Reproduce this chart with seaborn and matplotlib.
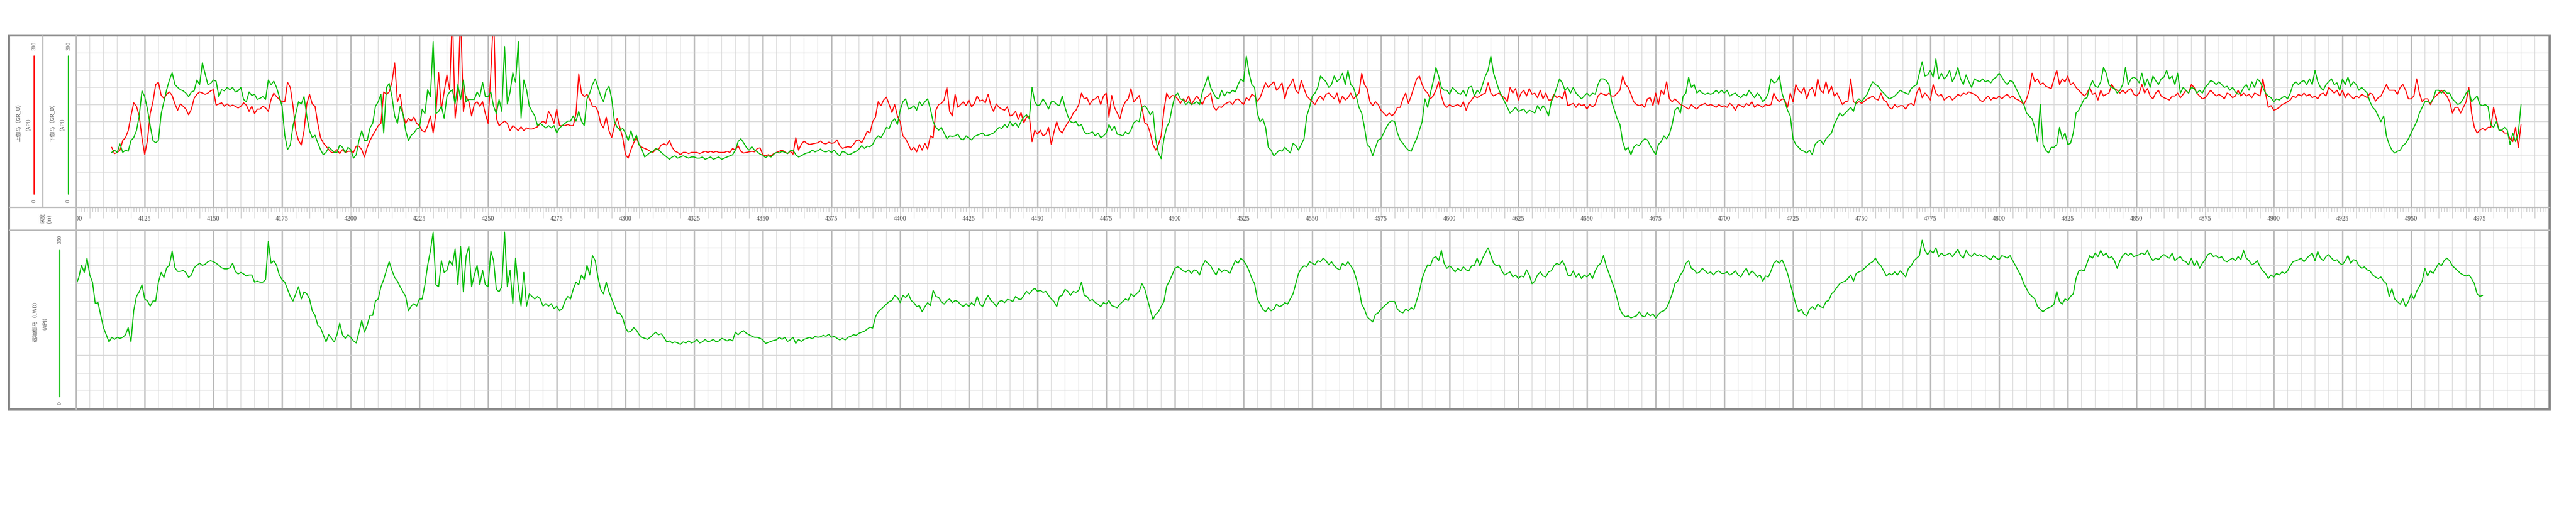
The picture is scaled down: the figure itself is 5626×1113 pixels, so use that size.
import numpy as np
import pandas as pd
import matplotlib
matplotlib.use("Agg")
import matplotlib.pyplot as plt
import seaborn as sns
from matplotlib.patches import Rectangle

# ---------------- data (1 m steps) ----------------
depth = np.arange(4100, 5001, 1)
depth_ticks = list(range(4100, 5000, 25))

# upper gamma GR_U (API), segments keyed by start depth
gr_u_4113 = [105,94,96,100,117,122,134,160,183,177,
 160,122,92,117,164,185,215,219,196,191,
 198,202,196,181,170,181,177,172,162,172,
 191,198,202,200,198,200,204,206,179,181,
 183,177,181,177,179,177,174,177,183,179,
 168,177,164,172,172,177,174,168,189,200,
 194,189,185,185,219,210,177,134,117,109,
 134,181,198,181,177,147,122,113,107,101,
 96,96,101,94,101,96,98,98,96,107,
 107,101,88,105,117,126,134,143,147,202,
 198,202,219,253,185,198,164]
gr_u_4220 = [147,156,151,158,147,143,134,132,143,160,
 130,164,236,172,202,232,206,340,156,198,
 340,168,194,185,160,181,185,177,185,164,
 147,236,340,156,143,147,151,147,134,143,
 139,134,141,134,139,137,137,139,141,147,
 151,147,168,160,147,172,143,143,143,145,
 143,143,164,234,200,194,198,189,177,177,
 168,147,139,158,134,122,143,156,139,122,
 92,86,101,113,122,109,105,103,101,98,
 96,101,101,109,111,109,117,105,98,96,
 92,96,96,94,96,96,96,94,96,98,
 96,98,96,98,96,96,96,98,96,103]
gr_u_4340 = [100,108,98,95,96,97,98,97,103,104,
 92,90,92,90,94,96,98,100,97,94,
 98,93,122,100,110,116,112,110,111,112,
 113,116,112,111,114,112,113,118,108,103,
 105,106,105,110,117,118,113,122,133,130,
 150,158,185,178,188,193,180,166,180,160,
 150,125,120,110,100,105,97,110,100,112,
 102,125,122,170,180,182,188,210,168,160,
 198,175,180,185,178,188,176,182,195,186,
 188,183,198,178,168,181,175,172,170,176,
 160,162,168,154,166,148,158,160,115,135,
 128,135,125,128,140,110,132,150,135,130]
gr_u_4460 = [140,148,155,165,170,180,200,190,192,180,
 188,190,195,180,195,200,158,196,175,165,
 155,175,185,190,208,185,190,196,175,148,
 145,130,110,100,110,125,170,200,190,196,
 195,190,182,190,185,195,180,188,195,188,
 180,192,195,200,176,170,176,175,180,183,
 185,180,188,190,185,180,192,188,198,195,
 186,192,205,218,210,215,220,205,210,218,
 190,208,215,225,205,200,222,208,195,190,
 185,180,190,195,188,198,200,195,190,200,
 182,195,188,192,200,190,195,200,235,215,
 208,185,178,185,180,170,165,160,165,160]
gr_u_4580 = [165,175,175,190,200,182,195,210,225,230,
 215,205,200,190,195,205,220,195,180,175,
 180,176,178,180,176,185,170,182,188,195,
 192,195,198,200,218,200,195,198,200,195,
 192,185,210,200,208,188,200,205,195,208,
 198,200,192,205,190,200,188,188,198,192,
 195,190,205,178,180,182,175,182,178,180,
 172,180,176,180,195,200,198,196,200,195,
 195,200,205,230,215,210,198,185,180,178,
 180,175,190,192,178,200,180,205,198,220,
 190,185,190,185,180,178,175,172,180,175,
 172,178,180,182,178,180,178,175,180,176]
gr_u_4700 = [178,175,182,178,170,180,178,175,182,178,
 185,175,180,178,175,180,178,180,200,190,
 185,190,188,175,200,185,215,205,200,210,
 190,205,210,195,225,205,200,220,200,212,
 195,200,190,180,185,186,225,185,182,185,
 182,186,190,192,195,190,188,200,188,185,
 175,172,180,175,178,178,172,180,182,178,
 200,210,192,200,195,188,215,200,195,198,
 188,192,195,188,192,198,195,200,198,202,
 200,198,195,188,185,190,195,188,192,190,
 195,190,195,198,192,195,190,188,185,180,
 190,205,235,220,225,215,218,212,210,208]
gr_u_4820 = [225,240,215,225,220,230,215,218,210,205,
 200,195,200,210,198,200,188,205,195,198,
 200,215,208,205,200,205,200,205,208,198,
 195,200,215,200,208,195,190,200,205,195,
 192,190,188,195,195,200,192,198,205,200,
 215,210,200,195,190,192,198,205,200,195,
 198,195,190,200,198,192,195,205,195,200,
 195,198,192,200,198,195,225,200,175,178,
 170,172,175,180,182,185,188,195,192,198,
 195,200,195,198,192,195,190,198,200,195,
 210,205,200,205,195,205,192,200,195,190,
 195,192,198,195,192,200,198,186,192,195]
gr_u_4940 = [205,215,205,205,205,198,210,215,205,190,
 190,195,225,200,185,190,190,180,190,195,
 200,205,200,195,185,165,175,175,165,175,
 185,210,165,140,130,135,138,135,140,140,
 175,155,135,135,130,130,120,115,140,105,
 145]

# lower gamma GR_D (API)
gr_d_4113 = [96,100,96,111,96,100,98,117,122,134,
 160,204,194,172,143,117,113,117,164,185,
 206,223,236,215,210,206,204,200,194,202,
 204,223,215,253,234,215,217,223,221,194,
 206,204,210,206,210,202,204,210,189,185,
 202,196,198,189,191,194,189,223,215,221,
 210,194,177,126,101,109,143,164,185,181,
 194,160,134,122,126,113,101,92,96,105,
 101,96,96,109,105,96,105,101,86,92,
 117,134,117,117,139,147,177,185,198,130,
 210,217,194,160,147,177,164]
gr_d_4220 = [134,117,126,130,137,139,172,164,206,194,
 290,164,168,177,156,194,202,206,181,215,
 189,223,185,189,189,189,202,194,219,194,
 194,202,177,164,189,168,282,181,202,236,
 219,290,156,223,206,177,168,160,143,147,
 143,139,143,139,143,130,139,143,147,151,
 151,160,151,168,151,143,190,200,215,225,
 210,195,185,205,212,190,150,140,135,138,
 130,117,134,117,126,109,101,88,92,96,
 98,103,101,96,92,88,84,88,90,86,
 88,90,88,86,88,88,86,86,88,84,
 86,88,84,86,88,84,86,88,90,92]
gr_d_4340 = [100,115,120,113,105,100,106,100,97,93,
 91,87,90,88,93,96,95,98,96,94,
 99,100,92,88,90,93,95,96,100,97,
 99,102,98,97,99,96,100,94,90,98,
 96,92,93,96,98,102,108,103,107,106,
 110,120,125,122,130,140,138,150,155,145,
 170,185,190,172,174,178,170,185,178,185,
 190,172,150,140,135,140,130,120,125,124,
 125,128,120,118,125,121,118,124,126,128,
 130,125,126,128,130,135,140,138,145,140,
 150,142,148,140,150,158,162,155,210,185,
 178,180,190,182,172,185,185,180,178,195]
gr_d_4460 = [175,160,150,148,150,142,145,132,128,130,
 132,125,130,122,125,130,145,135,142,128,
 127,125,132,128,135,148,152,150,175,178,
 172,162,168,120,95,85,120,140,150,175,
 195,200,190,188,180,185,180,182,185,180,
 202,215,230,210,200,192,190,205,195,202,
 200,205,202,215,225,220,265,235,215,210,
 165,150,155,140,105,100,90,95,100,98,
 105,100,95,112,108,100,110,120,160,175,
 195,200,210,230,225,220,210,215,230,220,
 225,235,215,240,215,210,195,175,165,140,
 110,105,90,105,118,120,130,140,148,152]
gr_d_4580 = [150,130,118,112,105,100,98,110,120,135,
 150,190,175,200,220,245,230,210,205,205,
 198,210,205,200,198,205,195,210,212,195,
 205,200,215,230,240,265,235,220,205,195,
 185,175,165,170,175,168,170,172,165,170,
 168,165,178,170,178,172,160,185,195,210,
 225,218,205,210,200,210,200,195,190,195,
 200,195,200,198,215,225,225,222,215,185,
 170,155,145,115,100,105,92,105,110,108,
 115,120,118,108,100,92,110,115,125,120,
 128,145,170,175,165,195,200,228,210,215,
 200,205,200,198,200,198,200,205,200,205]
gr_d_4700 = [200,205,195,198,200,195,192,198,195,205,
 198,192,200,195,185,190,200,225,218,220,
 230,200,185,170,160,120,110,105,100,98,
 95,100,92,110,115,118,110,120,125,130,
 145,155,165,160,165,170,175,168,185,190,
 185,192,198,210,220,215,212,205,200,195,
 190,192,195,200,205,202,200,198,208,212,
 215,235,255,230,232,240,228,260,225,235,
 225,230,240,220,230,245,225,215,232,220,
 210,225,222,220,225,220,222,218,225,228,
 235,228,220,215,222,220,210,200,190,180,
 165,160,155,140,115,180,110,100,95,105]
gr_d_4820 = [105,110,140,120,130,110,112,130,165,170,
 180,190,192,210,222,212,210,220,245,235,
 215,210,208,200,205,215,245,215,225,228,
 225,218,235,212,225,210,230,222,215,225,
 228,240,225,230,215,235,200,210,205,200,
 210,208,200,205,200,210,215,222,220,215,
 220,215,210,212,205,210,202,198,200,210,
 215,205,220,210,225,220,210,200,195,192,
 185,190,188,192,195,190,200,215,220,215,
 220,222,215,225,215,240,220,210,205,215,
 220,225,215,218,205,225,215,228,212,220,
 215,205,210,205,200,185,175,170,160,150]
gr_d_4940 = [160,125,110,100,95,98,100,108,112,120,
 130,140,150,165,175,185,185,183,190,205,
 205,200,205,200,200,190,185,180,183,190,
 200,205,185,190,195,180,178,180,176,145,
 140,150,135,135,140,135,110,130,115,130,
 180]

# far gamma LWD (API)
lwd_4100 = [243,257,281,267,295,262,248,206,208,183,
 159,145,131,140,136,140,138,140,145,159,
 131,192,220,229,243,215,211,201,211,211,
 248,267,257,276,281,309,276,269,269,271,
 267,257,262,276,281,285,281,283,288,290,
 288,285,281,276,274,274,276,285,269,264,
 267,264,260,262,262,248,250,248,248,253,
 328,285,290,281,262,253,248,234,220,211,
 225,239,215,229,225,215,192,183,164,159,
 145,131,145,138,131,145,168,145,138,145,
 140,133,129,150,173,150,164,183,183,211,
 215,239,253,271,288,271,257,250,239,229]
lwd_4220 = [220,192,201,206,201,215,215,243,281,309,
 346,243,239,290,267,271,290,281,313,243,
 318,229,299,318,239,262,281,243,271,243,
 239,309,290,234,229,239,346,239,271,206,
 295,239,201,267,201,225,220,215,220,215,
 201,206,201,206,196,201,192,196,211,220,
 215,234,248,243,262,253,281,262,300,290,
 257,234,225,248,229,215,201,187,187,178,
 159,150,152,159,154,145,140,138,136,140,
 145,150,145,147,140,131,133,129,131,129,
 126,131,129,133,129,131,136,129,131,136,
 131,133,136,131,133,138,136,133,136,133]
lwd_4340 = [150,145,150,153,148,145,142,140,140,138,
 135,128,130,132,134,135,140,136,140,132,
 135,140,128,136,132,136,138,140,137,142,
 140,141,144,142,146,140,142,138,135,138,
 135,140,142,145,144,148,150,152,156,160,
 158,180,190,195,200,205,210,212,222,218,
 208,222,218,225,212,208,200,202,190,200,
 208,202,232,220,218,210,205,212,215,208,
 212,210,204,200,206,200,208,202,220,205,
 200,212,222,212,208,200,210,212,208,214,
 213,210,220,215,214,222,230,225,232,236,
 230,232,228,230,222,215,210,200,220,222]
lwd_4460 = [234,230,222,230,228,232,248,222,220,212,
 214,208,205,200,208,205,212,202,200,198,
 205,210,215,212,225,220,225,230,245,235,
 215,195,175,185,190,200,210,240,250,262,
 275,278,275,270,268,272,265,272,270,262,
 280,290,285,280,270,262,275,268,272,270,
 265,278,290,285,295,290,282,270,255,245,
 215,205,195,190,198,192,195,205,200,202,
 208,205,215,225,245,265,275,280,278,288,
 285,282,290,288,295,290,282,288,280,275,
 272,285,280,288,280,272,255,235,205,195,
 180,175,170,185,188,195,200,205,210,210]
lwd_4580 = [210,195,190,188,195,192,198,195,212,230,
 255,270,282,280,295,298,290,310,285,275,
 280,275,268,275,270,278,272,270,280,280,
 295,280,295,305,315,300,285,280,282,270,
 262,265,268,258,262,255,260,258,272,262,
 245,250,262,268,260,258,268,270,280,285,
 282,290,280,262,260,270,258,265,255,262,
 258,265,255,270,280,285,300,280,265,250,
 235,215,195,185,180,182,178,180,182,190,
 182,180,188,182,186,178,185,190,192,198,
 210,225,245,250,262,270,285,290,275,272,
 265,268,275,270,265,268,262,268,270,265]
lwd_4700 = [265,268,262,265,270,262,258,268,275,262,
 270,265,258,262,250,260,258,270,285,290,
 285,292,280,265,245,225,205,190,195,185,
 182,195,200,195,205,200,198,210,212,225,
 230,238,245,248,250,255,262,250,265,268,
 270,275,280,285,288,295,285,280,270,260,
 265,262,268,262,270,265,258,275,280,290,
 295,300,330,310,302,310,305,315,298,305,
 300,302,305,298,305,312,300,295,310,302,
 298,305,300,302,298,300,295,292,300,295,
 292,300,298,295,300,290,280,270,260,245,
 235,225,220,215,200,195,190,195,198,200]
lwd_4820 = [205,230,210,205,215,212,220,225,255,270,
 272,270,285,300,295,305,298,310,300,305,
 295,298,290,275,290,300,305,300,305,298,
 300,302,305,302,310,298,290,295,292,298,
 302,298,295,305,290,295,298,290,288,282,
 295,280,290,275,285,292,302,305,298,300,
 295,298,290,288,292,295,290,298,292,310,
 295,290,282,285,290,278,270,265,255,262,
 258,265,262,268,265,270,280,288,290,292,
 295,288,295,300,305,290,308,295,290,298,
 302,295,290,292,285,282,290,300,285,292,
 290,280,275,278,272,270,262,258,255,258]
lwd_4940 = [250,245,220,235,215,210,205,215,200,210,
 225,215,230,240,250,275,260,270,265,275,
 285,280,290,295,290,280,275,270,265,262,
 260,262,255,245,225,220,222]

gr_u_segments = {4113: gr_u_4113, 4220: gr_u_4220, 4340: gr_u_4340, 4460: gr_u_4460,
                 4580: gr_u_4580, 4700: gr_u_4700, 4820: gr_u_4820, 4940: gr_u_4940}
gr_d_segments = {4113: gr_d_4113, 4220: gr_d_4220, 4340: gr_d_4340, 4460: gr_d_4460,
                 4580: gr_d_4580, 4700: gr_d_4700, 4820: gr_d_4820, 4940: gr_d_4940}
lwd_segments = {4100: lwd_4100, 4220: lwd_4220, 4340: lwd_4340, 4460: lwd_4460,
                4580: lwd_4580, 4700: lwd_4700, 4820: lwd_4820, 4940: lwd_4940}


def assemble(segments):
    out = np.full(len(depth), np.nan)
    for start, vals in segments.items():
        i = start - 4100
        n = min(len(vals), len(out) - i)
        out[i:i + n] = vals[:n]
    return out


df = pd.DataFrame({"depth": depth,
                   "gr_u": assemble(gr_u_segments),
                   "gr_d": assemble(gr_d_segments),
                   "lwd": assemble(lwd_segments)})

# ---------------- figure ----------------
sns.set_theme(style="white")
plt.rcParams['font.family'] = ['Noto Sans CJK SC', 'DejaVu Sans']

W, H = 5626, 1113
fig = plt.figure(figsize=(W / 100, H / 100), dpi=100)
fig.patch.set_facecolor("white")


def px_axes(x0, y0, x1, y1, **kw):
    return fig.add_axes([x0 / W, 1 - y1 / H, (x1 - x0) / W, (y1 - y0) / H], **kw)


XL, XR = 166, 5566
ax_top = px_axes(XL, 79, XR, 453)
ax_dep = px_axes(XL, 453, XR, 503)
ax_bot = px_axes(XL, 503, XR, 894)

RED = "#ff0000"
GREEN = "#00bb00"


def style_panel(ax, ymax):
    ax.set_xlim(4100, 5000)
    ax.set_ylim(0, ymax)
    for x in np.arange(4105, 5000, 5):
        major = (x % 25 == 0)
        ax.axvline(x, color="#bdbdbd" if major else "#dadada",
                   lw=2.4 if major else 1.1, zorder=0)
    for y in np.linspace(0, ymax, 11)[1:-1]:
        ax.axhline(y, color="#d6d6d6", lw=1.2, zorder=0)
    ax.set_xticks([])
    ax.set_yticks([])
    ax.set_xlabel("")
    ax.set_ylabel("")
    for s in ax.spines.values():
        s.set_visible(False)


sns.lineplot(data=df, x="depth", y="gr_u", color=RED, lw=1.6, ax=ax_top,
             estimator=None, errorbar=None, legend=False, sort=False)
sns.lineplot(data=df, x="depth", y="gr_d", color=GREEN, lw=1.6, ax=ax_top,
             estimator=None, errorbar=None, legend=False, sort=False)
style_panel(ax_top, 300)

sns.lineplot(data=df, x="depth", y="lwd", color=GREEN, lw=1.6, ax=ax_bot,
             estimator=None, errorbar=None, legend=False, sort=False)
style_panel(ax_bot, 350)

# depth strip
ax_dep.set_xlim(4100, 5000)
ax_dep.set_ylim(1, 0)
minor = np.arange(4101, 5000, 1)
lens = np.where(minor % 5 == 0, 0.47, 0.2)
ax_dep.vlines(minor, 0, lens, color="#c4c4c4", lw=1.0)
for d in depth_ticks:
    ax_dep.text(d, 0.52, str(d), ha="center", va="center", fontsize=10,
                family="Liberation Serif", color="#444444")
ax_dep.set_xticks([])
ax_dep.set_yticks([])
for s in ax_dep.spines.values():
    s.set_visible(False)

# overlay for header column and frame
bg = fig.add_axes([0, 0, 1, 1], facecolor="none")
bg.set_xlim(0, W)
bg.set_ylim(H, 0)
bg.axis("off")
bg.add_patch(Rectangle((20, 78), 146, 816, facecolor="white", edgecolor="none"))
sep = "#bdbdbd"
bg.plot([20, 5568], [453, 453], color=sep, lw=2.2)
bg.plot([20, 5568], [503, 503], color=sep, lw=2.2)
bg.plot([166, 166], [78, 894], color=sep, lw=2.2)
bg.plot([93, 93], [78, 453], color=sep, lw=2.2)
bg.add_patch(Rectangle((19, 77), 5549, 818, facecolor="none", edgecolor="#888888", lw=3.6))

txt = "#555555"
num = dict(family="Liberation Serif", fontsize=9, color=txt, rotation=90,
           ha="center", va="center")
lab = dict(fontsize=8.5, color=txt, rotation=90, ha="center", va="center",
           multialignment="center", linespacing=1.1)
# GR_U legend
bg.plot([74, 74], [122, 424], color=RED, lw=1.8)
bg.text(74, 101, "300", **num)
bg.text(74, 440, "0", **num)
bg.text(48, 265, "上伽马（GR_U）\n（API）", **lab)
# GR_D legend
bg.plot([149, 149], [122, 424], color=GREEN, lw=1.8)
bg.text(149, 101, "300", **num)
bg.text(149, 440, "0", **num)
bg.text(122, 265, "下伽马（GR_D）\n（API）", **lab)
# depth label
bg.text(100, 478, "深度\n(m)", **lab)
# LWD legend
bg.plot([130, 130], [547, 867], color=GREEN, lw=1.8)
bg.text(130, 524, "350", **num)
bg.text(130, 882, "0", **num)
bg.text(84, 700, "远端伽马（LWD）\n（API）", **lab)

fig.savefig("out.png", dpi=100, facecolor="white")
